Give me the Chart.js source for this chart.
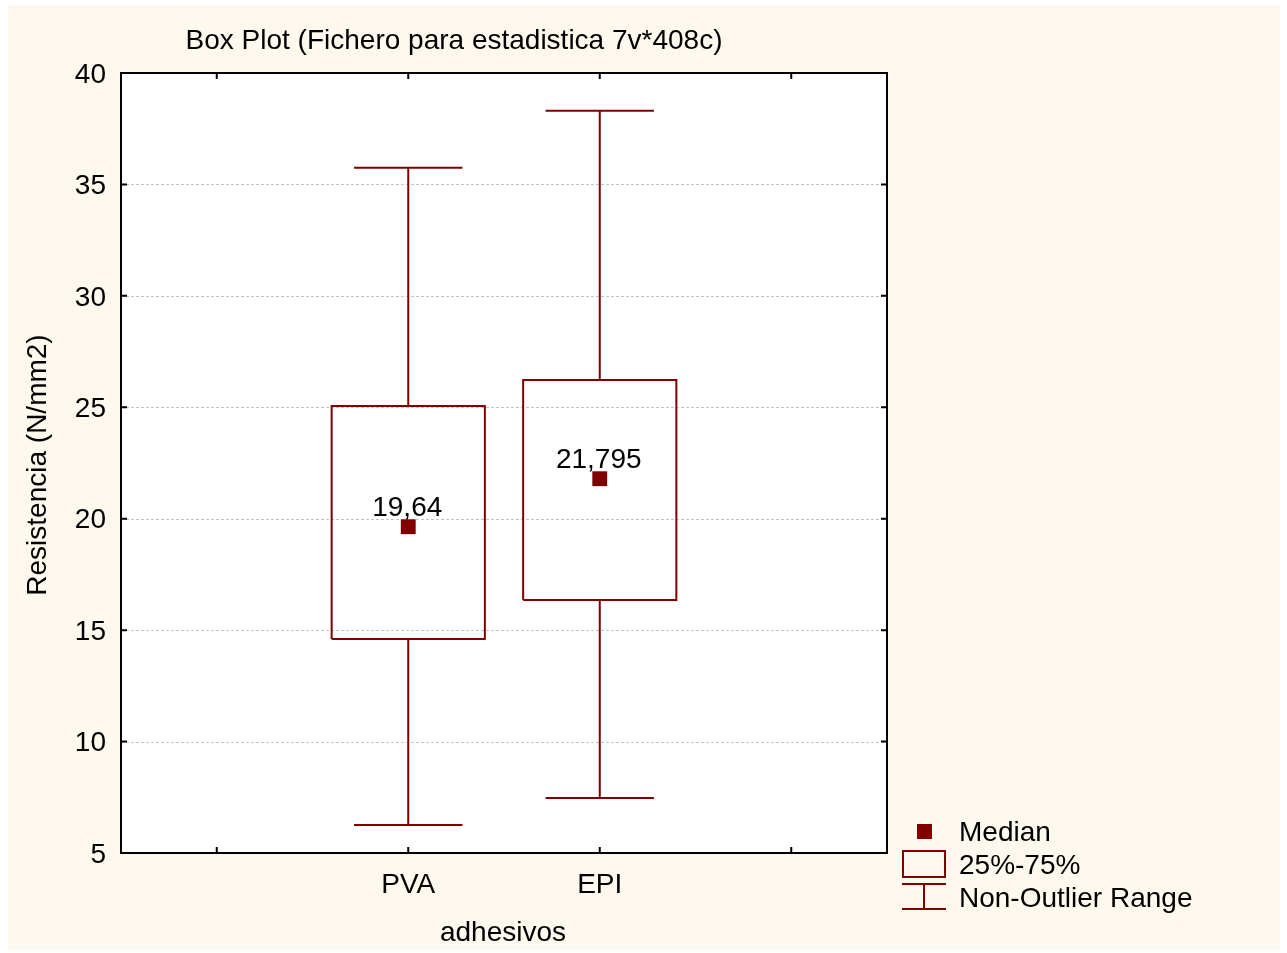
<!DOCTYPE html>
<html>
<head>
<meta charset="utf-8">
<script src="https://cdn.jsdelivr.net/npm/chart.js@4/dist/chart.umd.min.js"></script>
<style>
  html, body { margin: 0; padding: 0; background: #ffffff; }
  #wrap { position: relative; width: 1287px; height: 953px; }
  canvas { display: block; }
</style>
</head>
<body>
<div id="wrap"><canvas id="c" width="1287" height="953"></canvas></div>
<script>
// Box plot data: Resistencia (N/mm2) by adhesivo
const categories   = ['PVA', 'EPI'];
const lowWhisker   = [6.26, 7.47];
const quartile1    = [14.60, 16.35];
const medians      = [19.64, 21.795];
const quartile3    = [25.06, 26.22];
const highWhisker  = [35.75, 38.31];
const medianLabels = ['19,64', '21,795'];
const yTicks       = [5, 10, 15, 20, 25, 30, 35, 40];

const BOX_COLOR = '#800000';
const FONT = '"Liberation Sans", Arial, sans-serif';
const FONT_SIZE = 28;
const BOX_HALF = 0.4;   // half box width in x units
const CAP_HALF = 0.283; // half whisker cap width in x units

// category i sits at x = i + 1.5 on a 0..4 linear axis
const catX = i => i + 1.5;

function lineDs(points) {
  return {
    type: 'line', data: points, showLine: true, fill: false,
    borderColor: BOX_COLOR, borderWidth: 2, pointRadius: 0,
    tension: 0, order: 2
  };
}

const datasets = [];
categories.forEach((c, i) => {
  const x = catX(i);
  // box (25%-75%)
  datasets.push(lineDs([
    { x: x - BOX_HALF, y: quartile1[i] }, { x: x + BOX_HALF, y: quartile1[i] },
    { x: x + BOX_HALF, y: quartile3[i] }, { x: x - BOX_HALF, y: quartile3[i] },
    { x: x - BOX_HALF, y: quartile1[i] }
  ]));
  // whiskers
  datasets.push(lineDs([{ x: x, y: quartile3[i] }, { x: x, y: highWhisker[i] }]));
  datasets.push(lineDs([{ x: x, y: quartile1[i] }, { x: x, y: lowWhisker[i] }]));
  // caps
  datasets.push(lineDs([{ x: x - CAP_HALF, y: highWhisker[i] }, { x: x + CAP_HALF, y: highWhisker[i] }]));
  datasets.push(lineDs([{ x: x - CAP_HALF, y: lowWhisker[i] }, { x: x + CAP_HALF, y: lowWhisker[i] }]));
});
// medians
datasets.push({
  type: 'scatter',
  data: categories.map((c, i) => ({ x: catX(i), y: medians[i] })),
  pointStyle: 'rect', pointRadius: 10.5, pointHoverRadius: 10.5,
  backgroundColor: BOX_COLOR, borderColor: BOX_COLOR, borderWidth: 0, order: 1
});

const CHART_LEFT = 121, CHART_RIGHT = 887, CHART_TOP = 73, CHART_BOTTOM = 853;

// cream page background, grid, frame, inward ticks, titles, labels, legend
const decor = {
  id: 'decor',
  beforeDraw(chart) {
    const ctx = chart.ctx;
    ctx.save();
    ctx.fillStyle = '#ffffff';
    ctx.fillRect(0, 0, chart.width, chart.height);
    ctx.fillStyle = '#fef9ee';
    ctx.fillRect(8, 5, 1272, 945);
    const a = chart.chartArea;
    ctx.fillStyle = '#ffffff';
    ctx.fillRect(a.left, a.top, a.right - a.left, a.bottom - a.top);
    // dashed grid
    const ys = chart.scales.y;
    ctx.strokeStyle = '#c4c4c4';
    ctx.lineWidth = 1;
    ctx.setLineDash([3, 2]);
    yTicks.forEach(v => {
      if (v === 5 || v === 40) return;
      const py = Math.round(ys.getPixelForValue(v)) + 0.5;
      ctx.beginPath(); ctx.moveTo(a.left, py); ctx.lineTo(a.right, py); ctx.stroke();
    });
    ctx.setLineDash([]);
    ctx.restore();
  },
  afterDatasetsDraw(chart) {
    const ctx = chart.ctx;
    const a = chart.chartArea;
    const xs = chart.scales.x, ys = chart.scales.y;
    ctx.save();
    // frame
    ctx.strokeStyle = '#000000';
    ctx.lineWidth = 2;
    ctx.strokeRect(a.left, a.top, a.right - a.left, a.bottom - a.top);
    // inward ticks
    yTicks.forEach(v => {
      const py = ys.getPixelForValue(v);
      ctx.beginPath();
      ctx.moveTo(a.left, py); ctx.lineTo(a.left + 6, py);
      ctx.moveTo(a.right, py); ctx.lineTo(a.right - 6, py);
      ctx.stroke();
    });
    [0.5, 1.5, 2.5, 3.5].forEach(v => {
      const px = xs.getPixelForValue(v);
      ctx.beginPath();
      ctx.moveTo(px, a.bottom); ctx.lineTo(px, a.bottom - 6);
      ctx.moveTo(px, a.top); ctx.lineTo(px, a.top + 6);
      ctx.stroke();
    });
    // median value labels
    ctx.fillStyle = '#000000';
    ctx.font = FONT_SIZE + 'px ' + FONT;
    ctx.textAlign = 'center';
    ctx.textBaseline = 'middle';
    categories.forEach((c, i) => {
      ctx.fillText(medianLabels[i], xs.getPixelForValue(catX(i)) - 1, ys.getPixelForValue(medians[i]) - 18);
    });
    // chart title
    ctx.fillText('Box Plot (Fichero para estadistica 7v*408c)', 454, 41);
    // axis titles
    ctx.fillText('adhesivos', 503, 933);
    ctx.save();
    ctx.translate(38, 465);
    ctx.rotate(-Math.PI / 2);
    ctx.fillText('Resistencia (N/mm2)', 0, 0);
    ctx.restore();
    // legend
    ctx.textAlign = 'left';
    ctx.fillText('Median', 959, 833);
    ctx.fillText('25%-75%', 959, 866);
    ctx.fillText('Non-Outlier Range', 959, 899);
    ctx.fillStyle = BOX_COLOR;
    ctx.fillRect(917, 824, 15, 15);
    ctx.strokeStyle = BOX_COLOR;
    ctx.lineWidth = 2;
    ctx.strokeRect(903, 851, 42, 26);
    ctx.beginPath();
    ctx.moveTo(902, 884); ctx.lineTo(946, 884);
    ctx.moveTo(902, 909); ctx.lineTo(946, 909);
    ctx.moveTo(924, 884); ctx.lineTo(924, 909);
    ctx.stroke();
    ctx.restore();
  }
};

new Chart(document.getElementById('c'), {
  type: 'scatter',
  data: { datasets },
  options: {
    responsive: false,
    animation: false,
    events: [],
    layout: { padding: { left: 0, top: CHART_TOP, right: 1287 - CHART_RIGHT, bottom: 0 } },
    plugins: { legend: { display: false }, tooltip: { enabled: false }, title: { display: false } },
    scales: {
      x: {
        type: 'linear', min: 0, max: 4,
        afterFit(s) { s.height = 953 - CHART_BOTTOM; },
        afterBuildTicks(s) { s.ticks = [0.5, 1.5, 2.5, 3.5].map(v => ({ value: v })); },
        ticks: {
          autoSkip: false, maxRotation: 0, padding: 15, color: '#000000',
          font: { family: FONT, size: FONT_SIZE },
          callback: v => ({ 1.5: categories[0], 2.5: categories[1] }[v] || '')
        },
        grid: { display: false, drawTicks: false },
        border: { display: false }
      },
      y: {
        type: 'linear', min: 5, max: 40,
        afterFit(s) { s.width = CHART_LEFT; },
        afterBuildTicks(s) { s.ticks = yTicks.map(v => ({ value: v })); },
        ticks: { padding: 15, labelOffset: 2, color: '#000000', font: { family: FONT, size: FONT_SIZE } },
        grid: { display: false, drawTicks: false },
        border: { display: false }
      }
    }
  },
  plugins: [decor]
});
</script>
</body>
</html>
